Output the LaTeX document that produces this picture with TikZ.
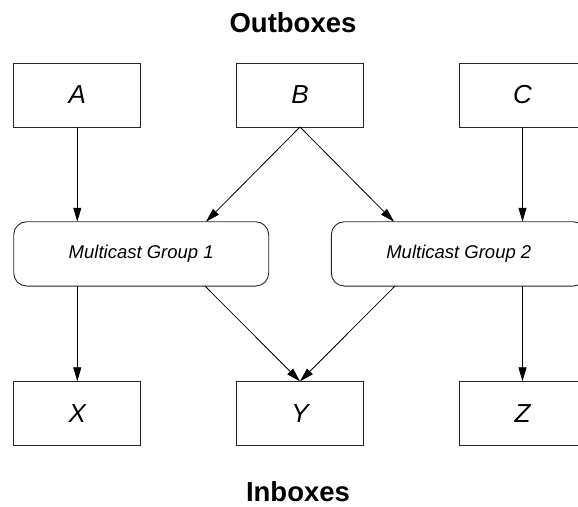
\documentclass[tikz,border=0pt]{standalone}
\usepackage{fontspec}
\setmainfont{Liberation Sans}
\usetikzlibrary{arrows.meta}
\begin{document}
\begin{tikzpicture}[x=1pt,y=-1pt,
  mbox/.style={draw=black!85,line width=0.9pt,minimum width=127pt,minimum height=64pt,inner sep=0pt,outer sep=0pt,font=\fontsize{26}{28}\selectfont\itshape},
  gbox/.style={draw=black!85,line width=0.9pt,rounded corners=13pt,minimum width=255pt,minimum height=64.3pt,inner sep=0pt,outer sep=0pt,font=\fontsize{18.5}{20}\selectfont\itshape},
  title/.style={font=\fontsize{27.5}{30}\selectfont\bfseries,anchor=base,inner sep=0pt},
  conn/.style={draw=black,line width=0.8pt,-{Triangle[length=14pt,width=8pt]}}]
\useasboundingbox (0,0) rectangle (578,506);
\node[title] (out) at (293,32) {Outboxes};
\node[title] (in) at (298,501) {Inboxes};
\node[mbox] (A) at (77.3,95) {A};
\node[mbox] (B) at (300,95) {B};
\node[mbox] (C) at (522.5,95) {C};
\node[gbox] (G1) at (141.2,253.9) {Multicast Group 1};
\node[gbox] (G2) at (458.8,253.9) {Multicast Group 2};
\node[mbox] (X) at (77.3,413.3) {X};
\node[mbox] (Y) at (300,413.3) {Y};
\node[mbox] (Z) at (522.5,413.3) {Z};
\draw[conn] (A.south) -- (A.south |- G1.north);
\draw[conn] (B.south) -- ([xshift=192.3pt]G1.north west);
\draw[conn] (B.south) -- ([xshift=62.7pt]G2.north west);
\draw[conn] (C.south) -- (C.south |- G2.north);
\draw[conn] (X.north |- G1.south) -- (X.north);
\draw[conn] ([xshift=191.3pt]G1.south west) -- (Y.north);
\draw[conn] ([xshift=63.7pt]G2.south west) -- (Y.north);
\draw[conn] (Z.north |- G2.south) -- (Z.north);
\end{tikzpicture}
\end{document}
